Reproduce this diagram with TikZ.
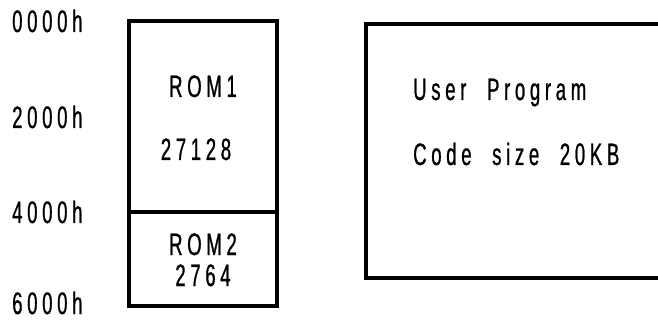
\documentclass[tikz,border=0pt]{standalone}
\usepackage{fontspec}
\newfontfamily\romfont[FakeStretch=0.6,LetterSpace=15,WordSpace=2.1,FakeBold=0.8]{Liberation Sans}
\usepackage{tikz}
\usetikzlibrary{positioning}

\tikzset{
  memtext/.style={font=\romfont\fontsize{31}{34}\selectfont, inner sep=0pt,
    text height=22pt, text depth=0pt},
  addr/.style={memtext, anchor=west},
  frame/.style={line width=3.2pt}
}

\begin{document}
\begin{tikzpicture}[x=1pt, y=-1pt]
      \useasboundingbox (0,0) rectangle (658,320);
      % memory map
      \draw[frame] (129,21) rectangle (277,306);
      \draw[frame] (129,212) -- (277,212);
      \node[memtext] (rom1) at (203,86) {ROM1};
      \node[memtext] (rom1chip) at (196,149) {27128};
      \node[memtext] (rom2) at (203,244) {ROM2};
      \node[memtext] (rom2chip) at (203,275) {2764};
      % addresses
      \node[addr] (a0) at (12,21) {0000h};
      \node[addr] (a2) at (12,117) {2000h};
      \node[addr] (a4) at (12,212) {4000h};
      \node[addr] (a6) at (12,303) {6000h};
      % user program
      \draw[frame] (658,24) -- (366,24) -- (366,278) -- (658,278);
      \node[addr] (prog) at (413,89) {User Program};
      \node[addr] (size) at (413,154) {Code size 20KB};
    \end{tikzpicture}
\end{document}
